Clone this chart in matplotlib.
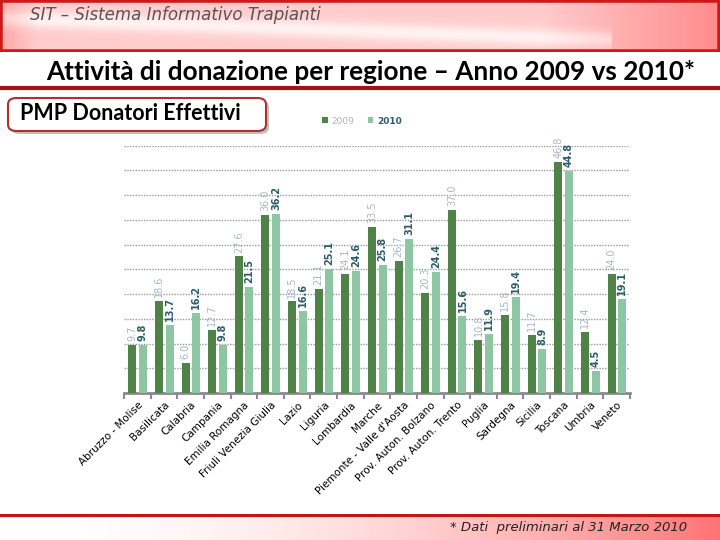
import numpy as np
import matplotlib
matplotlib.use("Agg")
import matplotlib.pyplot as plt
from matplotlib.patches import FancyBboxPatch, Rectangle
from matplotlib.lines import Line2D

# Dati PMP donatori effettivi per regione
regioni = ["Abruzzo - Molise", "Basilicata", "Calabria", "Campania", "Emilia Romagna",
           "Friuli Venezia Giulia", "Lazio", "Liguria", "Lombardia", "Marche",
           "Piemonte - Valle d'Aosta", "Prov. Auton. Bolzano", "Prov. Auton. Trento",
           "Puglia", "Sardegna", "Sicilia", "Toscana", "Umbria", "Veneto"]
pmp_2009 = [9.7, 18.6, 6.0, 12.7, 27.6, 36.0, 18.5, 21.1, 24.1, 33.5, 26.7, 20.3, 37.0,
            10.8, 15.8, 11.7, 46.8, 12.4, 24.0]
pmp_2010 = [9.8, 13.7, 16.2, 9.8, 21.5, 36.2, 16.6, 25.1, 24.6, 25.8, 31.1, 24.4, 15.6,
            11.9, 19.4, 8.9, 44.8, 4.5, 19.1]
anni = ["2009", "2010"]

col_2009 = "#4f8246"
col_2010 = "#8ec5a3"
lab_2009 = "#a9b7c2"
lab_2010 = "#2c5d6b"

fig = plt.figure(figsize=(7.2, 5.4), dpi=100)

# --- intestazione ---
hdr = fig.add_axes([0, 1 - 52 / 540, 1, 52 / 540])
xx = np.linspace(0, 1, 300)
yy = np.linspace(0, 1, 40)
X, Y = np.meshgrid(xx, yy)
base = np.zeros((40, 300, 3))
g = 0.80 - 0.25 * np.clip((X - 0.75) / 0.25, 0, 1) - 0.15 * np.clip((0.05 - X) / 0.05, 0, 1)
swoosh = np.exp(-((Y - (0.35 + 0.5 * X)) ** 2) / 0.03) * (X < 0.85)
g = np.clip(g + 0.15 * swoosh, 0, 1)
base[..., 0] = 1
base[..., 1] = g
base[..., 2] = g
hdr.imshow(base, aspect="auto", extent=[0, 1, 0, 1])
hdr.add_patch(Rectangle((0, 0), 1, 1, fill=False, edgecolor="#d01818", lw=4,
                        transform=hdr.transAxes))
hdr.text(0.042, 0.72, "SIT – Sistema Informativo Trapianti", fontsize=12, style="italic",
         color="#555555", va="center", ha="left")
hdr.set_xlim(0, 1)
hdr.set_ylim(0, 1)
hdr.axis("off")

# --- piè di pagina ---
ftr = fig.add_axes([0, 0, 1, 26 / 540])
fb = np.zeros((10, 300, 3))
fx = np.linspace(0, 1, 300)
fb[..., 0] = 1
fb[..., 1] = 1 - 0.55 * fx ** 2
fb[..., 2] = 1 - 0.55 * fx ** 2
ftr.imshow(fb, aspect="auto", extent=[0, 1, 0, 1])
ftr.axhline(0.97, color="#c01818", lw=3)
ftr.text(0.955, 0.5, "* Dati  preliminari al 31 Marzo 2010", fontsize=9.5, style="italic",
         color="#222222", ha="right", va="center")
ftr.set_xlim(0, 1)
ftr.set_ylim(0, 1)
ftr.axis("off")

# --- titolo ---
fig.text(0.515, 1 - 72 / 540, "Attività di donazione per regione – Anno 2009 vs 2010*",
         fontsize=18.8, fontweight="bold", ha="center", va="center", family="Lato")
fig.add_artist(Line2D([0, 1], [1 - 88 / 540, 1 - 88 / 540], color="#a51212", lw=3))

# riquadro sottotitolo
fig.add_artist(FancyBboxPatch((11 / 720, 1 - 134 / 540), 258 / 720, 33 / 540,
                              boxstyle="round,pad=0,rounding_size=0.012",
                              facecolor="#999999", edgecolor="none", alpha=0.6))
fig.add_artist(FancyBboxPatch((8 / 720, 1 - 131 / 540), 258 / 720, 33 / 540,
                              boxstyle="round,pad=0,rounding_size=0.012",
                              facecolor="white", edgecolor="#b03030", lw=1.5))
fig.text(20 / 720, 1 - 113 / 540, "PMP Donatori Effettivi", fontsize=15.5, fontweight="bold",
         ha="left", va="center", family="Lato")

# --- grafico ---
ax = fig.add_axes([124 / 720, 1 - 393 / 540, 506 / 720, (393 - 145.7) / 540])
x = np.arange(len(regioni))
w = 0.3
b1 = ax.bar(x - 0.19, pmp_2009, width=w, color=col_2009, zorder=3, label=anni[0])
b2 = ax.bar(x + 0.21, pmp_2010, width=w, color=col_2010, zorder=3, label=anni[1])

for xi, v in zip(x, pmp_2009):
    ax.text(xi - 0.19, v + 0.8, f"{v:.1f}", rotation=90, ha="center", va="bottom",
            fontsize=7, color=lab_2009, clip_on=False)
for xi, v in zip(x, pmp_2010):
    ax.text(xi + 0.21, v + 0.8, f"{v:.1f}", rotation=90, ha="center", va="bottom",
            fontsize=7, color=lab_2010, fontweight="bold", clip_on=False)

ax.set_xlim(-0.5, len(regioni) - 0.5)
ax.set_ylim(0, 50)
ax.set_yticks(np.arange(5, 51, 5))
ax.yaxis.grid(True, linestyle=(0, (1, 1)), color="#9a9a9a", lw=1)
ax.tick_params(axis="y", left=False, labelleft=False)
for s in ["left", "right", "top"]:
    ax.spines[s].set_visible(False)
ax.spines["bottom"].set_color("#8a8a8a")
ax.spines["bottom"].set_linewidth(2)

ax.set_xticks(np.arange(-0.5, len(regioni), 1), minor=False)
ax.set_xticklabels([])
ax.tick_params(axis="x", length=4, width=1.5, color="#8a8a8a")
ax.set_xticks(x, minor=True)
ax.set_xticklabels(regioni, minor=True, rotation=45, ha="right", rotation_mode="anchor",
                   fontsize=7.5)
ax.tick_params(axis="x", which="minor", length=0, pad=5)

leg = fig.legend(handles=[b1, b2], labels=anni, loc="center", ncol=2, frameon=False,
                 bbox_to_anchor=(362 / 720, 1 - 121 / 540), fontsize=6.5,
                 handlelength=0.6, handleheight=0.6, columnspacing=1.5, handletextpad=0.4)
leg.get_texts()[0].set_color(lab_2009)
leg.get_texts()[1].set_color(lab_2010)
leg.get_texts()[1].set_fontweight("bold")

fig.savefig("out.png", dpi=100)
